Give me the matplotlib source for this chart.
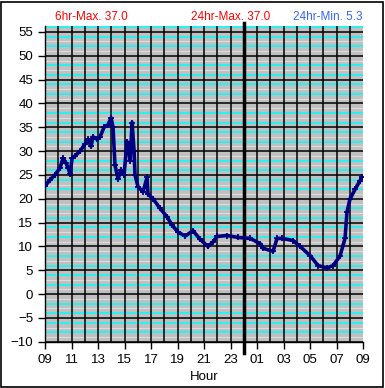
import numpy as np
import matplotlib
matplotlib.use('Agg')
import matplotlib.pyplot as plt
from matplotlib.patches import Rectangle

plt.rcParams['font.family'] = ['Liberation Sans', 'DejaVu Sans']

# ore trascorse dalle 09:00
ore = [0, 0.38, 0.75, 1.13, 1.36, 1.58, 1.74, 1.89, 2.04, 2.26, 2.64, 3.02, 3.25,
       3.47, 3.62, 3.92, 4.15, 4.45, 4.75, 4.98, 5.13, 5.28, 5.51, 5.74, 5.96, 6.19,
       6.34, 6.42, 6.57, 6.72, 6.79, 7.02, 7.40, 7.70, 7.77, 8.15, 8.68, 9.21, 9.58,
       10.04, 10.57, 11.17, 11.70, 12.30, 12.68, 12.98, 13.74, 14.57, 15.47, 16.23,
       16.45, 17.21, 17.51, 17.89, 18.72, 19.25, 20.0, 20.6, 21.28, 21.74, 22.26,
       22.64, 22.79, 23.02, 23.40, 23.77, 23.92]
temp = [22.7, 24.0, 25.0, 26.5, 28.5, 27.5, 26.5, 25.2, 28.5, 29.0, 30.0, 31.5, 32.5,
        31.0, 33.0, 32.5, 33.0, 35.0, 35.5, 37.0, 35.0, 27.0, 24.2, 26.0, 25.0, 32.0,
        30.0, 28.0, 36.0, 30.0, 25.0, 22.5, 21.5, 24.5, 21.0, 20.0, 18.0, 16.2, 14.5,
        13.0, 12.2, 13.3, 11.5, 10.0, 11.0, 12.1, 12.3, 11.9, 11.7, 10.6,
        9.6, 9.0, 11.7, 11.7, 11.25, 10.0, 8.1, 6.0, 5.5, 6.0, 8.0,
        11.7, 17.3, 20.0, 22.0, 23.8, 24.5]

xticks = list(range(0, 25, 2))
xlabels = ['09', '11', '13', '15', '17', '19', '21', '23', '01', '03', '05', '07', '09']
yticks = list(range(-10, 56, 5))

fig = plt.figure(figsize=(3.85, 3.88), dpi=100)
fig.patches.append(Rectangle((0.002, 0.002), 0.994, 0.994, transform=fig.transFigure,
                             fill=False, edgecolor='black', linewidth=1.2))
ax = fig.add_axes([0.117, 0.119, 0.826, 0.814])
ax.set_facecolor('#c0c0c0')
ax.set_xlim(0, 24)
ax.set_ylim(-10, 56.25)

# griglia secondaria
for v in np.arange(-10, 57, 1.0):
    if v % 5 == 0:
        continue
    col = '#00ffff' if int(v) % 2 == 0 else '#dcdcdc'
    ax.axhline(v, color=col, lw=1.1 if col == '#00ffff' else 0.8, zorder=1)
for v in yticks:
    ax.axhline(v, color='black', lw=1.1, zorder=2)
for h in range(1, 24):
    ax.axvline(h, color='black', lw=1.1, zorder=2)
ax.axvline(15, ymin=-0.035, ymax=1.01, color='black', lw=2.5, zorder=3, clip_on=False)

ax.plot(ore, temp, color='#000080', lw=2.6, marker='+', ms=5, mew=1.3, zorder=4)

ax.set_xticks(xticks)
ax.set_xticklabels(xlabels)
ax.set_yticks(yticks)
ax.tick_params(direction='out', length=5, width=1, labelsize=9.5, colors='black')
for s in ['top', 'right']:
    ax.spines[s].set_visible(False)
ax.spines['left'].set_linewidth(1)
ax.spines['bottom'].set_linewidth(1)
ax.set_xlabel('Hour', fontsize=9.5, labelpad=4)

fig.text(0.143, 0.955, '6hr-Max. 37.0', color='#ff0000', fontsize=8.5, ha='left', va='center')
fig.text(0.497, 0.955, '24hr-Max. 37.0', color='#ff0000', fontsize=8.5, ha='left', va='center')
fig.text(0.760, 0.955, '24hr-Min. 5.3', color='#3366ff', fontsize=8.5, ha='left', va='center')

fig.savefig('out.png', dpi=100)
